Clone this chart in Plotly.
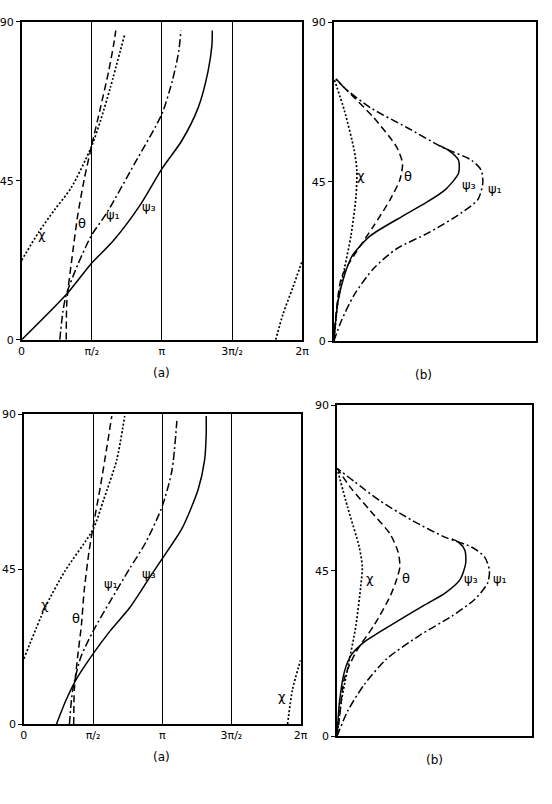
import math
import plotly.graph_objects as go

PI = math.pi
W, H = 552, 804

# ---------------- data ----------------
# panel (a), top: phase angle (rad) vs height (deg)
tl_psi3_x = [0, 1.0, 1.562, 2.058, 2.642, 3.138, 3.59, 3.955, 4.174, 4.262, 4.27]
tl_psi3_y = [0, 12.8, 21.6, 28.1, 37.9, 48.3, 56.4, 65.7, 75.9, 83.3, 87.5]
tl_theta_x = [1.0, 1.014, 1.146, 1.255, 1.40, 1.562, 1.766, 1.948, 2.058, 2.109]
tl_theta_y = [0, 10.9, 24.9, 35.1, 45.3, 54.6, 65.7, 75.9, 83.3, 87.5]
tl_chi_x = [0, 0.38, 0.744, 1.109, 1.562, 1.766, 1.985, 2.313]
tl_chi_y = [22.5, 30.4, 36.9, 43.0, 54.6, 62.0, 71.3, 86.6]
tl_chi2_x = [5.692, 5.852, 6.071, 6.283]
tl_chi2_y = [0, 7.2, 14.7, 22.3]
tl_psi1_x = [0.854, 0.927, 1.0, 1.255, 1.562, 1.912, 2.532, 3.138, 3.371, 3.517, 3.568]
tl_psi1_y = [0, 8.2, 12.8, 21.2, 29.5, 36.0, 49.9, 63.8, 73.1, 81.5, 87.5]

# panel (b), top: amplitude (arbitrary) vs height (deg)
tr_chi_x = [0, 0.021, 0.053, 0.085, 0.11, 0.114, 0.101, 0.053, 0]
tr_chi_y = [0, 11.3, 20.6, 29.8, 40.9, 48.3, 53.9, 65.0, 74.3]
tr_theta_x = [0, 0.037, 0.101, 0.198, 0.279, 0.327, 0.34, 0.311, 0.198, 0.069, 0]
tr_theta_y = [0, 17.8, 24.3, 32.6, 40.0, 45.6, 50.2, 54.8, 63.1, 70.6, 74.7]
tr_psi3_x = [0, 0.021, 0.053, 0.093, 0.182, 0.343, 0.456, 0.552, 0.617, 0.617, 0.568, 0.52]
tr_psi3_y = [0, 11.3, 18.7, 24.3, 29.8, 35.4, 39.1, 42.8, 47.4, 51.1, 53.9, 55.3]
tr_psi1_x = [0, 0.037, 0.101, 0.198, 0.311, 0.472, 0.633, 0.713, 0.737, 0.729, 0.681, 0.536, 0.359, 0.182, 0.053, 0]
tr_psi1_y = [0, 5.7, 13.1, 20.6, 26.1, 30.7, 36.3, 40.0, 44.6, 48.3, 51.1, 54.8, 60.4, 65.9, 71.5, 74.7]

# panel (a), bottom
bl_psi3_x = [0.739, 0.961, 1.183, 1.575, 1.959, 2.402, 2.846, 3.142, 3.585, 3.955, 4.103, 4.14, 4.14]
bl_psi3_y = [0, 7.1, 12.9, 20.5, 27.1, 33.8, 42.4, 48.1, 56.7, 68.1, 76.7, 84.3, 89.5]
bl_theta_x = [1.131, 1.146, 1.22, 1.308, 1.368, 1.478, 1.575, 1.737, 1.885, 1.996]
bl_theta_y = [0, 10.0, 19.5, 29.0, 38.6, 50.0, 57.6, 69.0, 80.5, 89.5]
bl_psi1_x = [1.035, 1.109, 1.294, 1.575, 1.959, 2.402, 2.772, 3.142, 3.364, 3.474]
bl_psi1_y = [0, 10.0, 19.5, 27.1, 35.7, 45.2, 52.9, 63.3, 73.8, 88.1]
bl_chi_x = [0, 0.48, 0.924, 1.575, 1.811, 2.107, 2.29]
bl_chi_y = [19.0, 33.8, 44.3, 56.7, 65.2, 76.7, 89.5]
bl_chi2_x = [5.988, 6.098, 6.283]
bl_chi2_y = [0, 10.0, 18.6]

# panel (b), bottom
br_chi_x = [0, 0.022, 0.055, 0.097, 0.122, 0.13, 0.114, 0.055, 0]
br_chi_y = [0, 9.5, 18.5, 30.1, 40.8, 46.1, 51.5, 62.2, 72.9]
br_theta_x = [0, 0.013, 0.038, 0.097, 0.189, 0.273, 0.306, 0.323, 0.314, 0.273, 0.172, 0.072, 0]
br_theta_y = [0, 5.1, 15.8, 22.9, 30.1, 38.1, 42.6, 46.1, 50.1, 55.0, 61.3, 67.5, 72.9]
br_psi3_x = [0, 0.013, 0.038, 0.072, 0.139, 0.273, 0.44, 0.557, 0.632, 0.661, 0.657, 0.624, 0.59]
br_psi3_y = [0, 9.5, 17.6, 22.0, 25.6, 30.1, 35.4, 39.0, 42.6, 47.0, 50.6, 52.8, 53.7]
br_psi1_x = [0, 0.055, 0.139, 0.256, 0.423, 0.59, 0.707, 0.774, 0.783, 0.758, 0.691, 0.557, 0.39, 0.222, 0.089, 0]
br_psi1_y = [0, 6.9, 14.0, 21.1, 27.4, 32.7, 37.2, 41.7, 45.2, 48.8, 51.5, 54.1, 58.6, 64.0, 69.3, 72.9]

x_tickvals = [0, PI / 2, PI, 3 * PI / 2, 2 * PI]
x_ticktext = ["0", "π/₂", "π", "3π/₂", "2π"]
y_tickvals = [0, 45, 90]
y_ticktext = ["0", "45", "90"]

# ---------------- figure ----------------
fig = go.Figure()
FONT = "DejaVu Sans, Liberation Sans, sans-serif"


def px_dom(a, b, total):
    return [a / total, b / total]


def py_dom(top, bottom):
    return [1 - bottom / H, 1 - top / H]


panels = {
    "tl": ("x", "y", (16, 303.3), (16, 339.3)),
    "tr": ("x2", "y2", (335.7, 542.7), (16.7, 340.7)),
    "bl": ("x3", "y3", (18.3, 301.7), (415, 730)),
    "br": ("x4", "y4", (339, 538.3), (406, 742.3)),
}

LW = 1.5
DASHES = {
    "solid": "solid",
    "dot": "2px,2px",
    "dash": "7px,4px",
    "dashdot": "8px,3px,2px,3px",
}


def add(xs, ys, style, xa, ya):
    width = 1.7 if style == "dot" else LW
    fig.add_trace(go.Scatter(x=xs, y=ys, mode="lines", xaxis=xa, yaxis=ya,
                             line=dict(color="black", width=width, dash=DASHES[style],
                                       shape="spline", smoothing=0.7),
                             showlegend=False, hoverinfo="skip"))


# top (a)
add(tl_psi3_x, tl_psi3_y, "solid", "x", "y")
add(tl_theta_x, tl_theta_y, "dash", "x", "y")
add(tl_chi_x, tl_chi_y, "dot", "x", "y")
add(tl_chi2_x, tl_chi2_y, "dot", "x", "y")
add(tl_psi1_x, tl_psi1_y, "dashdot", "x", "y")
# top (b)
add(tr_chi_x, tr_chi_y, "dot", "x2", "y2")
add(tr_theta_x, tr_theta_y, "dash", "x2", "y2")
add(tr_psi1_x, tr_psi1_y, "dashdot", "x2", "y2")
add(tr_psi3_x, tr_psi3_y, "solid", "x2", "y2")
# bottom (a)
add(bl_psi3_x, bl_psi3_y, "solid", "x3", "y3")
add(bl_theta_x, bl_theta_y, "dash", "x3", "y3")
add(bl_psi1_x, bl_psi1_y, "dashdot", "x3", "y3")
add(bl_chi_x, bl_chi_y, "dot", "x3", "y3")
add(bl_chi2_x, bl_chi2_y, "dot", "x3", "y3")
# bottom (b)
add(br_chi_x, br_chi_y, "dot", "x4", "y4")
add(br_theta_x, br_theta_y, "dash", "x4", "y4")
add(br_psi1_x, br_psi1_y, "dashdot", "x4", "y4")
add(br_psi3_x, br_psi3_y, "solid", "x4", "y4")

layout = dict(width=W, height=H, margin=dict(l=0, r=0, t=0, b=0),
              paper_bgcolor="white", plot_bgcolor="white",
              font=dict(family=FONT, size=11, color="black"))

for name, (xa, ya, (x0, x1), (y0, y1)) in panels.items():
    xk = "xaxis" + xa[1:]
    yk = "yaxis" + ya[1:]
    left_panel = name in ("tl", "bl")
    xax = dict(domain=px_dom(x0, x1, W), anchor=ya, showline=True, mirror=True,
               linecolor="black", linewidth=1.5, zeroline=False, fixedrange=True,
               ticks="")
    if left_panel:
        xax.update(range=[0, 2 * PI], tickvals=x_tickvals, ticktext=x_ticktext,
                   showgrid=True, gridcolor="black", gridwidth=1.3,
                   tickfont=dict(size=11, family=FONT))
    else:
        xax.update(range=[0, 1], showgrid=False, showticklabels=False)
    yax = dict(domain=py_dom(y0, y1), anchor=xa, range=[0, 90], tickvals=y_tickvals,
               ticktext=y_ticktext, showline=True, mirror=True, linecolor="black",
               linewidth=1.5, showgrid=False, zeroline=False, ticks="outside",
               ticklen=4, tickcolor="black", fixedrange=True,
               tickfont=dict(size=11, family=FONT))
    layout[xk] = xax
    layout[yk] = yax

fig.update_layout(**layout)


def lab(text, x, y, xa, ya, size=13):
    fig.add_annotation(text=text, x=x, y=y, xref=xa, yref=ya, showarrow=False,
                       xanchor="center", yanchor="middle",
                       font=dict(size=size, family=FONT, color="black"))


# curve labels
lab("χ", 0.46, 29.9, "x", "y")
lab("θ", 1.35, 32.9, "x", "y")
lab("ψ₁", 2.05, 35.4, "x", "y")
lab("ψ₃", 2.85, 37.7, "x", "y")

lab("χ", 0.135, 46.9, "x2", "y2")
lab("θ", 0.365, 46.6, "x2", "y2")
lab("ψ₃", 0.67, 44.1, "x2", "y2")
lab("ψ₁", 0.80, 43.0, "x2", "y2")

lab("χ", 0.48, 34.9, "x3", "y3")
lab("θ", 1.19, 30.6, "x3", "y3")
lab("ψ₁", 1.98, 40.9, "x3", "y3")
lab("ψ₃", 2.85, 43.7, "x3", "y3")
lab("χ", 5.87, 8.0, "x3", "y3")

lab("χ", 0.17, 42.9, "x4", "y4")
lab("θ", 0.355, 42.9, "x4", "y4")
lab("ψ₃", 0.69, 42.9, "x4", "y4")
lab("ψ₁", 0.835, 42.9, "x4", "y4")

# panel captions
for text, px, py in [("(a)", 159, 373), ("(b)", 428, 375), ("(a)", 159, 763), ("(b)", 439, 766)]:
    fig.add_annotation(text=text, x=px / W, y=1 - py / H, xref="paper", yref="paper",
                       xanchor="center", yanchor="middle", showarrow=False,
                       font=dict(size=12, family=FONT, color="black"))

fig.write_html("out.html")
